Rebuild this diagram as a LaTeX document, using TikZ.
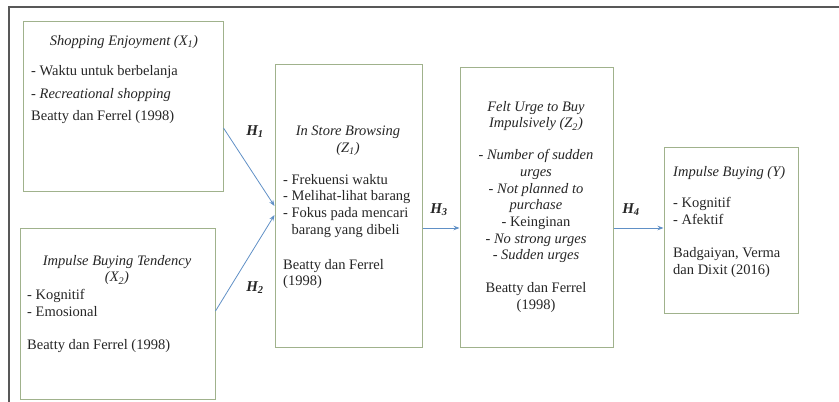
\documentclass[tikz,border=0pt]{standalone}
\usepackage{fontspec}
\setmainfont{Liberation Serif}
\usetikzlibrary{positioning,arrows.meta}

\definecolor{boxline}{RGB}{160,178,140}
\definecolor{linkblue}{RGB}{96,144,198}
\definecolor{frameline}{RGB}{88,88,88}

\begin{document}
\begin{tikzpicture}
    [ x=1pt, y=-1pt
    , varbox/.style={draw=boxline, line width=1pt, fill=white, inner sep=0pt}
    , blurb/.style={font=\fontsize{14.5}{16.7}\selectfont, text=black!85, inner sep=0pt}
    , hyp/.style={font=\fontsize{15}{17}\selectfont\bfseries\itshape, text=black!85, inner sep=0pt}
    , link/.style={draw=linkblue, line width=0.8pt, -{Stealth[length=6pt,width=4.5pt]}}
    ]
  \useasboundingbox (0,0) rectangle (839,402);
  \draw[frameline, line width=2pt] (9,402) -- (9,7) -- (839,7);

  % boxes
  \node[varbox, minimum width=200pt, minimum height=170pt] (enjoy) at (123,106) {};
  \node[varbox, minimum width=195pt, minimum height=171pt] (tendency) at (117.5,313.5) {};
  \node[varbox, minimum width=147pt, minimum height=283pt] (browse) at (348.5,205.5) {};
  \node[varbox, minimum width=153pt, minimum height=280pt] (urge) at (536.5,207) {};
  \node[varbox, minimum width=134pt, minimum height=166pt] (buying) at (731,230) {};

  % box texts
  \node[blurb] (enjoyT) at (124,42) {\textit{Shopping Enjoyment (X\textsubscript{1})}};
  \node[blurb, anchor=north west, align=left] (enjoyB) at (31,65)
    {- Waktu untuk berbelanja\\[7pt]
     - \textit{Recreational shopping}\\[5pt]
     Beatty dan Ferrel (1998)};

  \node[blurb, anchor=north, align=center] (tendencyT) at (117,255)
    {\textit{Impulse Buying Tendency}\\ \textit{(X\textsubscript{2})}};
  \node[blurb, anchor=north west, align=left] (tendencyB) at (27,289)
    {- Kognitif\\
     - Emosional\\[17pt]
     Beatty dan Ferrel (1998)};

  \node[blurb, anchor=north, align=center] (browseT) at (348,126)
    {\textit{In Store Browsing}\\ \textit{(Z\textsubscript{1})}};
  \node[blurb, anchor=north west, align=left] (browseB) at (283,174)
    {- Frekuensi waktu\\
     - Melihat-lihat barang\\
     - Fokus pada mencari\\
     \phantom{- }barang yang dibeli\\[18pt]
     Beatty dan Ferrel\\
     (1998)};

  \node[blurb, anchor=north, align=center] (urgeT) at (536,101)
    {\textit{Felt Urge to Buy}\\
     \textit{Impulsively (Z\textsubscript{2})}\\[15pt]
     \textit{- Number of sudden}\\
     \textit{urges}\\
     \textit{- Not planned to}\\
     \textit{purchase}\\
     - Keinginan\\
     \textit{- No strong urges}\\
     \textit{- Sudden urges}\\[16pt]
     Beatty dan Ferrel\\
     (1998)};

  \node[blurb, anchor=north west, align=left] (buyingT) at (673,166)
    {\textit{Impulse Buying (Y)}\\[15pt]
     - Kognitif\\
     - Afektif\\[16pt]
     Badgaiyan, Verma\\
     dan Dixit (2016)};

  % hypotheses
  \draw[link] ([yshift=-22pt]enjoy.east) -- ([yshift=-0.5pt]browse.west);
  \draw[link] ([yshift=2.5pt]tendency.east) -- ([yshift=-9.5pt]browse.west);
  \draw[link] ([yshift=-22.5pt]browse.east) -- ([yshift=-22.5pt]browse.east -| urge.west);
  \draw[link] ([yshift=-21pt]urge.east) -- ([yshift=-21pt]urge.east -| buying.west);

  \node[hyp] (h1) at (255,132) {H\textsubscript{1}};
  \node[hyp] (h2) at (255,288) {H\textsubscript{2}};
  \node[hyp] (h3) at (439,210) {H\textsubscript{3}};
  \node[hyp] (h4) at (631,210) {H\textsubscript{4}};
\end{tikzpicture}
\end{document}
